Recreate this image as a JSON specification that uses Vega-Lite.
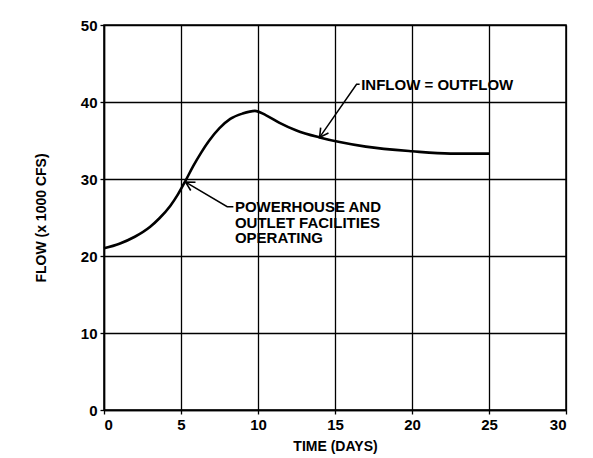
{
  "$schema": "https://vega.github.io/schema/vega-lite/v6.json",
  "width": 462,
  "height": 385,
  "autosize": {"type": "none"},
  "padding": {"left": 104, "top": 25, "right": 27, "bottom": 48},
  "background": "white",
  "config": {
    "font": "Liberation Sans",
    "view": {"stroke": "black", "strokeWidth": 1.5},
    "axis": {
      "domainColor": "black", "domainWidth": 1.5,
      "gridColor": "black", "gridWidth": 1.3, "gridOpacity": 1,
      "tickColor": "black", "tickSize": 4, "tickWidth": 1.3,
      "labelColor": "black", "labelFont": "Liberation Sans", "labelFontSize": 15, "labelFontWeight": "bold",
      "titleColor": "black", "titleFont": "Liberation Sans", "titleFontSize": 14, "titleFontWeight": "bold"
    }
  },
  "datasets": {
    "curve": [
      {"t": 0, "flow": 21.0},
      {"t": 1.0, "flow": 21.6},
      {"t": 2.0, "flow": 22.5},
      {"t": 3.0, "flow": 23.8},
      {"t": 3.6, "flow": 24.9},
      {"t": 4.3, "flow": 26.5},
      {"t": 4.8, "flow": 28.0},
      {"t": 5.3, "flow": 29.8},
      {"t": 5.8, "flow": 31.7},
      {"t": 6.3, "flow": 33.4},
      {"t": 6.8, "flow": 34.9},
      {"t": 7.5, "flow": 36.6},
      {"t": 8.2, "flow": 37.8},
      {"t": 9.0, "flow": 38.5},
      {"t": 9.8, "flow": 38.85},
      {"t": 10.5, "flow": 38.3},
      {"t": 11.4, "flow": 37.3},
      {"t": 12.5, "flow": 36.3},
      {"t": 14.0, "flow": 35.4},
      {"t": 15.3, "flow": 34.8},
      {"t": 17.0, "flow": 34.2},
      {"t": 20.0, "flow": 33.6},
      {"t": 22.5, "flow": 33.3},
      {"t": 25.0, "flow": 33.3}
    ],
    "arrows": [
      {"arrow": "a", "order": 1, "t": 16.6, "flow": 42.3},
      {"arrow": "a", "order": 2, "t": 16.4, "flow": 42.3},
      {"arrow": "a", "order": 3, "t": 14.0, "flow": 35.4},
      {"arrow": "b", "order": 1, "t": 8.4, "flow": 26.4},
      {"arrow": "b", "order": 2, "t": 8.0, "flow": 26.4},
      {"arrow": "b", "order": 3, "t": 5.3, "flow": 29.6}
    ],
    "heads": [
      {"t": 14.0, "flow": 35.4, "angle": 125},
      {"t": 5.3, "flow": 29.6, "angle": 210}
    ],
    "labels": [
      {"t": 16.7, "flow": 42.2, "label": "INFLOW = OUTFLOW"},
      {"t": 8.5, "flow": 26.4, "label": "POWERHOUSE AND"},
      {"t": 8.5, "flow": 24.3, "label": "OUTLET FACILITIES"},
      {"t": 8.5, "flow": 22.3, "label": "OPERATING"}
    ]
  },
  "layer": [
    {
      "data": {"name": "curve"},
      "mark": {"type": "line", "color": "black", "strokeWidth": 2.6, "interpolate": "monotone"},
      "encoding": {
        "x": {"field": "t", "type": "quantitative", "scale": {"domain": [0, 30]},
              "axis": {"values": [0, 5, 10, 15, 20, 25, 30], "title": "TIME (DAYS)", "labelPadding": 3, "titlePadding": 7}},
        "y": {"field": "flow", "type": "quantitative", "scale": {"domain": [0, 50]},
              "axis": {"values": [0, 10, 20, 30, 40, 50], "title": "FLOW (x 1000 CFS)", "labelPadding": 3, "titlePadding": 32}}
      }
    },
    {
      "data": {"name": "arrows"},
      "mark": {"type": "line", "color": "black", "strokeWidth": 1.5},
      "encoding": {
        "x": {"field": "t", "type": "quantitative"},
        "y": {"field": "flow", "type": "quantitative"},
        "detail": {"field": "arrow"},
        "order": {"field": "order"}
      }
    },
    {
      "data": {"name": "heads"},
      "mark": {"type": "point", "shape": "M -1 -0.55 L 0 0 L -1 0.55", "filled": false, "stroke": "black", "strokeWidth": 1.6, "size": 300, "opacity": 1},
      "encoding": {
        "x": {"field": "t", "type": "quantitative"},
        "y": {"field": "flow", "type": "quantitative"},
        "angle": {"field": "angle", "type": "quantitative", "scale": null}
      }
    },
    {
      "data": {"name": "labels"},
      "mark": {"type": "text", "align": "left", "baseline": "middle", "fontSize": 15, "fontWeight": "bold", "font": "Liberation Sans", "color": "black"},
      "encoding": {
        "x": {"field": "t", "type": "quantitative"},
        "y": {"field": "flow", "type": "quantitative"},
        "text": {"field": "label"}
      }
    }
  ]
}
